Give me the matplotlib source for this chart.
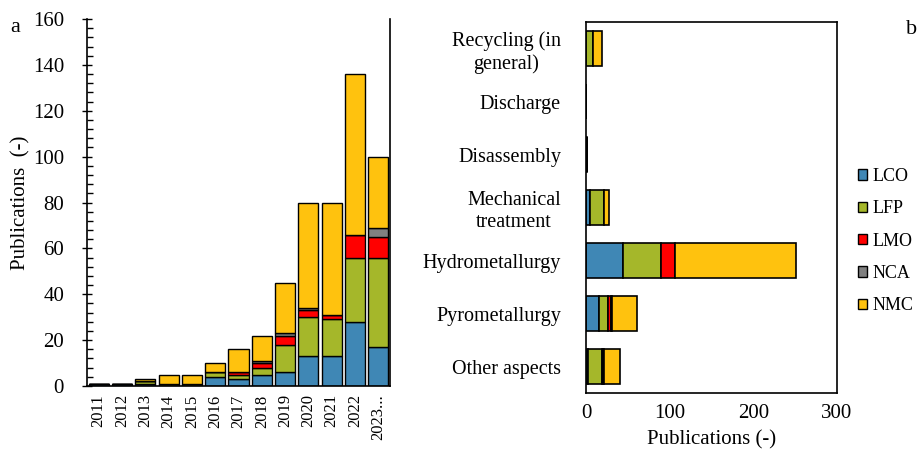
import numpy as np
import matplotlib
matplotlib.use('Agg')
from matplotlib import pyplot as plt
from matplotlib.patches import Patch
from matplotlib.ticker import MultipleLocator

# Panel a: publications per year and chemistry
years = ['2011', '2012', '2013', '2014', '2015', '2016', '2017', '2018', '2019', '2020', '2021', '2022', '2023...']
year_lco = [1, 1, 1, 0, 0, 4, 3, 5, 6, 13, 13, 28, 17]
year_lfp = [0, 0, 1, 1, 1, 2, 2, 3, 12, 17, 16, 28, 39]
year_lmo = [0, 0, 0, 0, 0, 0, 1, 2, 4, 3, 2, 10, 9]
year_nca = [0, 0, 0, 0, 0, 0, 0, 1, 1, 1, 0, 0, 4]
year_nmc = [0, 0, 1, 4, 4, 4, 10, 11, 22, 46, 49, 70, 31]

# Panel b: publications per recycling step and chemistry
steps = ['Recycling (in\ngeneral)', 'Discharge', 'Disassembly', 'Mechanical\ntreatment',
         'Hydrometallurgy', 'Pyrometallurgy', 'Other aspects']
step_lco = [0, 0, 1, 5, 44, 16, 2]
step_lfp = [8, 0, 0, 16, 46, 10, 17]
step_lmo = [0, 0, 0, 1, 16, 4, 1]
step_nca = [0, 0, 0, 0, 0, 1, 2]
step_nmc = [11, 0, 0, 6, 145, 30, 19]

chemistries = ['LCO', 'LFP', 'LMO', 'NCA', 'NMC']
colors = ['#3F87B5', '#A5B72A', '#FF0000', '#808080', '#FFC20E']


def main():
    plt.rcParams['font.family'] = ['Liberation Serif', 'DejaVu Serif']
    plt.rcParams['font.size'] = 15
    W, H = 919, 455
    fig = plt.figure(figsize=(W / 100, H / 100), dpi=100)

    # Left panel
    ax = fig.add_axes([87 / W, (H - 386) / H, 303 / W, 367 / H])
    x = np.arange(len(years))
    bottom = np.zeros(len(years))
    for values, color in zip([year_lco, year_lfp, year_lmo, year_nca, year_nmc], colors):
        ax.bar(x, values, width=0.86, bottom=bottom, color=color, edgecolor='black', linewidth=1)
        bottom += np.array(values)
    ax.set_xlim(-0.5, len(years) - 0.5)
    ax.set_ylim(0, 160)
    ax.set_xticks(x)
    ax.set_xticklabels(years, rotation=90, fontsize=12)
    ax.tick_params(axis='x', length=0, pad=6)
    ax.yaxis.set_major_locator(MultipleLocator(20))
    ax.yaxis.set_minor_locator(MultipleLocator(4))
    ax.tick_params(axis='y', which='major', direction='inout', length=7, width=1, labelsize=15, pad=13)
    ax.tick_params(axis='y', which='minor', direction='in', length=4, width=1)
    ax.spines['top'].set_visible(False)
    for s in ax.spines.values():
        s.set_linewidth(1.2)
    ax.set_ylabel('Publications  (-)', labelpad=2)

    # Right panel
    bx = fig.add_axes([586 / W, (H - 393) / H, 251 / W, 371 / H])
    y = np.arange(len(steps))
    left = np.zeros(len(steps))
    for values, color in zip([step_lco, step_lfp, step_lmo, step_nca, step_nmc], colors):
        bx.barh(y, values, height=0.66, left=left, color=color, edgecolor='black', linewidth=1.2)
        left += np.array(values)
    bx.set_ylim(len(steps) - 0.5, -0.5)
    bx.set_xlim(0, 300)
    bx.set_xticks([0, 100, 200, 300])
    bx.set_yticks(y)
    bx.set_yticklabels(steps, ha='right', multialignment='center', fontsize=14.5)
    bx.tick_params(axis='y', length=0, pad=18)
    bx.tick_params(axis='x', length=0, pad=8)
    for s in bx.spines.values():
        s.set_linewidth(1.2)
    bx.set_xlabel('Publications (-)', labelpad=5)

    handles = [Patch(facecolor=c, edgecolor='black', linewidth=1) for c in colors]
    fig.legend(handles, chemistries, loc='center left', bbox_to_anchor=(851 / W, (H - 241) / H),
               frameon=False, borderaxespad=0, handlelength=0.5, handleheight=0.5, handletextpad=0.3,
               labelspacing=0.85, fontsize=13)

    fig.text(10 / W, (H - 28) / H, 'a', fontsize=16, va='center')
    fig.text(906 / W, (H - 30) / H, 'b', fontsize=16, va='center')

    fig.savefig('out.png', dpi=100)
    plt.close(fig)


if __name__ == '__main__':
    main()
